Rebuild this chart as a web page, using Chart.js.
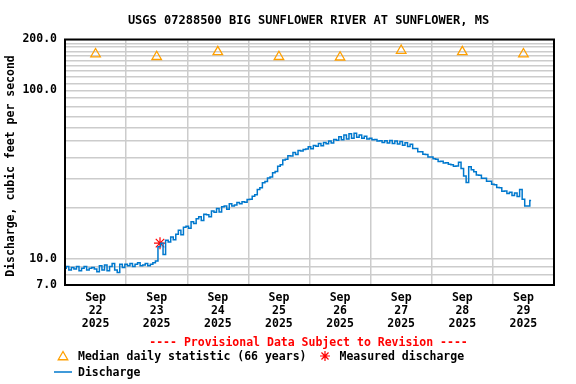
<!DOCTYPE html>
<html>
<head>
<meta charset="utf-8">
<script src="https://cdn.jsdelivr.net/npm/chart.js@4"></script>
<style>
  html, body { margin: 0; padding: 0; background: #fff; }
  #wrap { width: 576px; height: 384px; }
</style>
</head>
<body>
<div id="wrap"><canvas id="myChart" width="576" height="384"></canvas></div>
<script>
// hourly discharge, cfs, starting Sep 22 2025 00:00
var dischargeCfs = [
  8.8, 9.0, 8.6, 8.9, 8.7, 9.0, 8.5, 8.8, 9.0, 8.6, 8.8, 8.9,
  8.7, 8.4, 9.1, 8.6, 9.2, 8.5, 9.0, 9.4, 8.6, 8.3, 9.3, 8.9,
  9.3, 9.1, 9.4, 9.0, 9.3, 9.5, 9.1, 9.2, 9.4, 9.1, 9.3, 9.5,
  9.7, 11.8, 12.4, 10.6, 12.9, 12.6, 13.5, 13.0, 14.0, 14.8, 13.9, 15.4,
  15.6, 15.2, 16.6, 16.2, 17.3, 17.8, 16.9, 18.4, 18.3, 17.8, 19.2, 18.9,
  19.9, 19.0, 20.4, 20.6, 19.7, 21.2, 20.6, 20.9, 21.6, 21.2, 21.8, 21.7,
  22.5, 22.6, 23.5, 24.0, 25.8, 26.4, 28.3, 28.8, 30.2, 30.6, 32.4, 33.0,
  35.4, 36.2, 38.6, 39.0, 40.9, 40.8, 42.8, 41.6, 43.9, 43.6, 44.6, 44.8,
  46.3, 45.0, 47.0, 46.5, 48.3, 46.8, 49.0, 48.2, 50.0, 48.6, 51.0, 50.6,
  53.0, 50.8, 54.2, 51.4, 55.2, 52.0, 55.6, 52.6, 54.2, 52.0, 53.4, 51.4,
  52.0, 50.8, 51.0, 50.0, 50.2, 49.0, 50.2, 48.6, 50.3, 48.4, 50.0, 48.0,
  49.6, 47.2, 48.9, 46.4, 47.8, 45.2, 45.2, 43.2, 43.2, 41.8, 41.6, 40.2,
  40.2, 39.2, 39.0, 37.8, 37.9, 37.0, 37.1, 36.4, 36.2, 35.4, 35.5, 37.4,
  34.4, 31.0, 28.4, 35.2, 33.8, 32.9, 31.4, 31.3, 30.1, 30.1, 28.9, 28.9,
  27.7, 27.5, 26.5, 26.4, 25.2, 25.3, 24.4, 24.8, 23.8, 24.6, 23.4, 25.8,
  22.6, 20.6, 20.6, 22.2
];
// median daily statistic, plotted at noon of each day
var medianDays = [0.5, 1.5, 2.5, 3.5, 4.5, 5.5, 6.5, 7.5];
var medianCfs = [164, 158, 169, 158, 157, 172, 169, 164];
// measured discharge
var measuredHour = [37.3];
var measuredCfs = [12.4];
var dayLabels = ["22", "23", "24", "25", "26", "27", "28", "29"];
var yTicks = [7, 8, 9, 10, 20, 30, 40, 50, 60, 70, 80, 90, 100,
              110, 120, 130, 140, 150, 160, 170, 180, 190, 200];
var yLabeled = [7, 10, 100, 200];

var FONT = "'DejaVu Sans Mono', monospace";
var blue = "rgb(0,120,205)";
var orange = "rgb(255,160,0)";

var lineData = [];
for (var i = 0; i < dischargeCfs.length; i++) {
  lineData.push({x: i, y: dischargeCfs[i]});
}
var medData = [];
for (var i = 0; i < medianCfs.length; i++) {
  medData.push({x: medianDays[i] * 24, y: medianCfs[i]});
}
var measData = [];
for (var i = 0; i < measuredCfs.length; i++) {
  measData.push({x: measuredHour[i], y: measuredCfs[i]});
}

function drawTri(c, x, y, r) {
  c.beginPath();
  c.moveTo(x, y - r);
  c.lineTo(x + r * 0.866, y + r * 0.5);
  c.lineTo(x - r * 0.866, y + r * 0.5);
  c.closePath();
  c.stroke();
}
function drawStar(c, x, y, r) {
  c.beginPath();
  for (var k = 0; k < 4; k++) {
    var a = k * Math.PI / 4;
    c.moveTo(x - Math.cos(a) * r, y - Math.sin(a) * r);
    c.lineTo(x + Math.cos(a) * r, y + Math.sin(a) * r);
  }
  c.stroke();
}

var extras = {
  id: "extras",
  afterDraw: function(chart) {
    var c = chart.ctx;
    var a = chart.chartArea;
    c.save();
    c.strokeStyle = "#000";
    c.lineWidth = 2;
    c.strokeRect(a.left, a.top, a.right - a.left, a.bottom - a.top);

    c.fillStyle = "#000";
    c.font = "bold 12px " + FONT;
    c.textAlign = "center";
    c.textBaseline = "middle";
    c.fillText("USGS 07288500 BIG SUNFLOWER RIVER AT SUNFLOWER, MS", 308.5, 21);

    c.font = "bold 11.5px " + FONT;
    c.save();
    c.translate(11, 166);
    c.rotate(-Math.PI / 2);
    c.fillText("Discharge, cubic feet per second", 0, 0);
    c.restore();

    c.fillStyle = "#ff0000";
    c.fillText("---- Provisional Data Subject to Revision ----", 308.5, 343);

    c.textAlign = "left";
    c.fillStyle = "#000";
    c.fillText("Median daily statistic (66 years)", 78, 357);
    c.fillText("Measured discharge", 339.5, 357);
    c.fillText("Discharge", 78, 373);

    c.lineWidth = 1.3;
    c.strokeStyle = orange;
    drawTri(c, 63, 357, 5.5);
    c.strokeStyle = "#ff0000";
    c.lineWidth = 1.2;
    drawStar(c, 325, 356, 5);
    c.strokeStyle = blue;
    c.lineWidth = 1.5;
    c.beginPath();
    c.moveTo(54, 372);
    c.lineTo(72, 372);
    c.stroke();
    c.restore();
  }
};

var ctx = document.getElementById("myChart").getContext("2d");
var myChart = new Chart(ctx, {
  type: "line",
  data: {
    datasets: [
      {
        label: "Discharge",
        data: lineData,
        borderColor: blue,
        borderWidth: 1.5,
        pointRadius: 0,
        stepped: "middle",
        fill: false
      },
      {
        label: "Median daily statistic (66 years)",
        data: medData,
        showLine: false,
        pointStyle: "triangle",
        pointRadius: 5.5,
        pointBorderColor: orange,
        pointBackgroundColor: "rgba(255,255,255,0)",
        pointBorderWidth: 1.3
      },
      {
        label: "Measured discharge",
        data: measData,
        showLine: false,
        pointStyle: "star",
        pointRadius: 6,
        pointBorderColor: "#ff0000",
        pointBorderWidth: 1.2
      }
    ]
  },
  options: {
    responsive: false,
    animation: false,
    layout: { padding: { top: 39.5, right: 22, bottom: 0, left: 0 } },
    plugins: { legend: { display: false }, tooltip: { enabled: false } },
    scales: {
      x: {
        type: "linear",
        min: 0,
        max: 192,
        afterBuildTicks: function(scale) {
          var t = [];
          for (var h = 0; h <= 192; h += 12) t.push({value: h});
          scale.ticks = t;
        },
        afterFit: function(scale) { scale.height = 99; },
        grid: {
          drawTicks: false,
          lineWidth: 1.5,
          color: function(c) {
            return c.tick && c.tick.value % 24 === 0 ? "#cccccc" : "rgba(0,0,0,0)";
          }
        },
        border: { display: false },
        ticks: {
          autoSkip: false,
          maxRotation: 0,
          padding: 7,
          color: "#000",
          font: { family: FONT, size: 11.5, weight: "bold", lineHeight: 1.12 },
          callback: function(v) {
            if (v % 24 === 12) return ["Sep", dayLabels[(v - 12) / 24], "2025"];
            return "";
          }
        }
      },
      y: {
        type: "logarithmic",
        min: 7,
        max: 200,
        afterBuildTicks: function(scale) {
          scale.ticks = yTicks.map(function(v) { return {value: v}; });
        },
        afterFit: function(scale) { scale.width = 65; },
        grid: { drawTicks: false, lineWidth: 1.5, color: "#cccccc" },
        border: { display: false },
        ticks: {
          autoSkip: false,
          padding: 8,
          color: "#000",
          font: { family: FONT, size: 11.5, weight: "bold" },
          callback: function(v) {
            return yLabeled.indexOf(v) >= 0 ? v.toFixed(1) : "";
          }
        }
      }
    }
  },
  plugins: [extras]
});
</script>
</body>
</html>
